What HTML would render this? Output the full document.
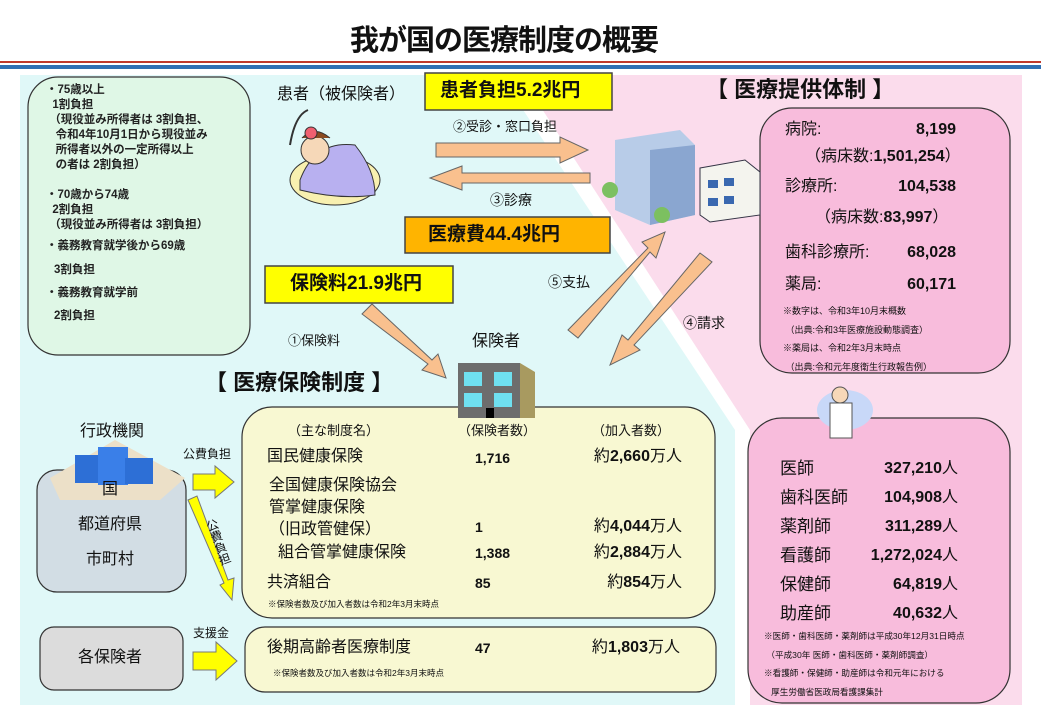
<!DOCTYPE html>
<html><head><meta charset="utf-8"><style>
body{margin:0;width:1041px;height:718px;position:relative;background:#fff;overflow:hidden;font-family:"Liberation Sans","Noto Sans CJK JP",sans-serif;color:#111}
.t{position:absolute;white-space:nowrap;line-height:1}
.b{font-weight:bold}
.r{text-align:right}
</style></head><body>
<svg width="1041" height="718" style="position:absolute;left:0;top:0">
<defs><marker id="m" markerWidth="1" markerHeight="1"/></defs>
<rect x="0" y="61" width="1041" height="2" fill="#c0392b"/>
<rect x="0" y="65" width="1041" height="4" fill="#2f6fb3"/>
<!-- backgrounds -->
<polygon points="20,75 500,75 735,430 735,705 20,705" fill="#e0f8f8"/>
<polygon points="520,75 1022,75 1022,705 750,705 750,430" fill="#fbdcec"/>
<!-- left green box -->
<rect x="28" y="77" width="222" height="278" rx="30" fill="#dff7e6" stroke="#333" stroke-width="1.2"/>
<!-- pink boxes -->
<rect x="760" y="108" width="250" height="265" rx="32" fill="#f8bcdc" stroke="#333" stroke-width="1.2"/>
<rect x="748" y="418" width="262" height="285" rx="34" fill="#f8bcdc" stroke="#333" stroke-width="1.2"/>
<!-- yellow boxes -->
<rect x="242" y="407" width="473" height="211" rx="30" fill="#f8f8d2" stroke="#333" stroke-width="1.2"/>
<rect x="245" y="627" width="471" height="65" rx="20" fill="#f8f8d2" stroke="#333" stroke-width="1.2"/>
<!-- gov box -->
<rect x="37" y="470" width="149" height="122" rx="20" fill="#d2dde4" stroke="#333" stroke-width="1.2"/>
<rect x="40" y="627" width="143" height="63" rx="14" fill="#dcdcdc" stroke="#333" stroke-width="1.2"/>
<!-- gov building icon -->
<polygon points="50,478 115,440 185,478 160,500 60,500" fill="#ece0c8"/>
<rect x="75" y="455" width="25" height="28" fill="#2d6fd6"/><rect x="98" y="447" width="30" height="38" fill="#3a7fe8"/><rect x="125" y="458" width="28" height="26" fill="#2d6fd6"/>
<!-- top value boxes -->
<rect x="425" y="73" width="187" height="37" fill="#ffff00" stroke="#444" stroke-width="1.5"/>
<rect x="405" y="217" width="205" height="36" fill="#ffb400" stroke="#444" stroke-width="1.5"/>
<rect x="265" y="266" width="188" height="37" fill="#ffff00" stroke="#444" stroke-width="1.5"/>
<!-- orange arrows -->
<g fill="#f9c08e" stroke="#666" stroke-width="1">
<polygon points="436,143 560,143 560,137 588,150 560,163 560,157 436,157"/>
<polygon points="590,173 462,173 462,166 430,178 462,190 462,183 590,183"/>
<polygon points="362,314 372,304 432,360 438,354 446,378 422,370 428,364"/>
<polygon points="568,330 578,338 650,252 656,258 665,232 642,242 648,248"/>
<polygon points="700,253 712,262 634,345 640,350 610,365 622,335 628,340"/>
</g>
<!-- yellow arrows -->
<g fill="#ffff00" stroke="#777" stroke-width="1">
<polygon points="193,474 215,474 215,466 234,482 215,498 215,490 193,490"/>
<polygon points="193,652 216,652 216,642 237,661 216,680 216,670 193,670"/>
<polygon points="188,500 197,496 228,580 234,578 232,600 220,585 224,583"/>
</g>
<!-- insurer building -->
<rect x="458" y="363" width="62" height="55" fill="#6d6d6d"/><polygon points="520,363 535,372 535,418 520,418" fill="#a89a60"/>
<g fill="#6fe0f0"><rect x="464" y="372" width="18" height="14"/><rect x="494" y="372" width="18" height="14"/><rect x="464" y="393" width="18" height="14"/><rect x="494" y="393" width="18" height="14"/></g>
<rect x="486" y="408" width="8" height="10" fill="#000"/>
<!-- hospital -->
<polygon points="615,140 680,130 695,145 695,215 650,225 615,210" fill="#b8cce8"/>
<polygon points="650,150 695,145 695,215 650,225" fill="#8aa6d0"/>
<circle cx="610" cy="190" r="8" fill="#7cc060"/><circle cx="662" cy="215" r="8" fill="#7cc060"/>
<polygon points="700,168 745,160 760,172 760,215 710,222 700,215" fill="#f4f4ee" stroke="#334" stroke-width="1"/>
<g fill="#3a68b0"><rect x="708" y="180" width="10" height="8"/><rect x="724" y="178" width="10" height="8"/><rect x="708" y="198" width="10" height="8"/><rect x="724" y="196" width="10" height="8"/></g>
<!-- patient -->
<ellipse cx="335" cy="180" rx="45" ry="25" fill="#f8f0b0" stroke="#333"/>
<path d="M300,180 Q315,140 355,145 Q375,170 375,195 Q340,200 300,190Z" fill="#b8b0f0" stroke="#333"/>
<circle cx="315" cy="150" r="14" fill="#f6d8b8" stroke="#333"/>
<path d="M302,138 Q315,125 330,138" fill="#8a4a20" stroke="#333"/>
<circle cx="311" cy="133" r="6" fill="#f06070" stroke="#333"/>
<path d="M290,145 Q295,115 308,110" fill="none" stroke="#333" stroke-width="2"/>
<!-- doctor -->
<ellipse cx="845" cy="410" rx="28" ry="20" fill="#c8d8f8"/>
<circle cx="840" cy="395" r="8" fill="#f6d8b8" stroke="#555"/>
<rect x="830" y="403" width="22" height="35" fill="#fff" stroke="#555"/>
</svg>

<div class="t b" style="left:350px;top:27px;font-size:29px;letter-spacing:-1px">我が国の医療制度の概要</div>

<div class="t" style="left:46px;top:83px;font-size:11.5px;line-height:15px;font-weight:bold;color:#222">・75歳以上<br>&nbsp;&nbsp;1割負担<br>&nbsp;（現役並み所得者は 3割負担、<br>&nbsp;&nbsp;&nbsp;令和4年10月1日から現役並み<br>&nbsp;&nbsp;&nbsp;所得者以外の一定所得以上<br>&nbsp;&nbsp;&nbsp;の者は 2割負担）</div>
<div class="t" style="left:46px;top:188px;font-size:11.5px;line-height:15px;font-weight:bold;color:#222">・70歳から74歳<br>&nbsp;&nbsp;2割負担<br>&nbsp;（現役並み所得者は 3割負担）</div>
<div class="t b" style="left:46px;top:241px;font-size:11.5px;color:#222">・義務教育就学後から69歳</div>
<div class="t b" style="left:54px;top:265px;font-size:11.5px;color:#222">3割負担</div>
<div class="t b" style="left:46px;top:288px;font-size:11.5px;color:#222">・義務教育就学前</div>
<div class="t b" style="left:54px;top:311px;font-size:11.5px;color:#222">2割負担</div>

<div class="t" style="left:277px;top:87px;font-size:16px">患者（被保険者）</div>
<div class="t b" style="left:440px;top:81px;font-size:19px">患者負担5.2兆円</div>
<div class="t" style="left:453px;top:120px;font-size:13px">②受診・窓口負担</div>
<div class="t" style="left:490px;top:193px;font-size:14px">③診療</div>
<div class="t b" style="left:428px;top:225px;font-size:19px">医療費44.4兆円</div>
<div class="t b" style="left:290px;top:274px;font-size:19px">保険料21.9兆円</div>
<div class="t" style="left:288px;top:334px;font-size:13px">①保険料</div>
<div class="t" style="left:472px;top:334px;font-size:16px">保険者</div>
<div class="t" style="left:548px;top:275px;font-size:14px">⑤支払</div>
<div class="t" style="left:683px;top:316px;font-size:14px">④請求</div>

<div class="t b" style="left:706px;top:79px;font-size:22px">【 医療提供体制 】</div>
<div class="t" style="left:785px;top:122px;font-size:16px">病院:</div><div class="t b r" style="left:870px;width:86px;top:122px;font-size:16px">8,199</div>
<div class="t" style="left:805px;top:149px;font-size:16px">（病床数:<b>1,501,254</b>）</div>
<div class="t" style="left:785px;top:179px;font-size:16px">診療所:</div><div class="t b r" style="left:870px;width:86px;top:179px;font-size:16px">104,538</div>
<div class="t" style="left:815px;top:210px;font-size:16px">（病床数:<b>83,997</b>）</div>
<div class="t" style="left:785px;top:245px;font-size:16px">歯科診療所:</div><div class="t b r" style="left:870px;width:86px;top:245px;font-size:16px">68,028</div>
<div class="t" style="left:785px;top:277px;font-size:16px">薬局:</div><div class="t b r" style="left:870px;width:86px;top:277px;font-size:16px">60,171</div>
<div class="t" style="left:783px;top:302px;font-size:9px;line-height:18.5px">※数字は、令和3年10月末概数<br>&nbsp;（出典:令和3年医療施設動態調査）<br>※薬局は、令和2年3月末時点<br>&nbsp;（出典:令和元年度衛生行政報告例）</div>

<div class="t" style="left:780px;top:454px;font-size:17px;line-height:29px">医師<br>歯科医師<br>薬剤師<br>看護師<br>保健師<br>助産師</div>
<div class="t b r" style="left:850px;width:108px;top:454px;font-size:16px;line-height:29px">327,210<span style="font-weight:normal">人</span><br>104,908<span style="font-weight:normal">人</span><br>311,289<span style="font-weight:normal">人</span><br>1,272,024<span style="font-weight:normal">人</span><br>64,819<span style="font-weight:normal">人</span><br>40,632<span style="font-weight:normal">人</span></div>
<div class="t" style="left:764px;top:627px;font-size:8.6px;line-height:18.5px">※医師・歯科医師・薬剤師は平成30年12月31日時点<br>&nbsp;（平成30年 医師・歯科医師・薬剤師調査）<br>※看護師・保健師・助産師は令和元年における<br>&nbsp;&nbsp;&nbsp;厚生労働省医政局看護課集計</div>

<div class="t b" style="left:205px;top:372px;font-size:22px">【 医療保険制度 】</div>
<div class="t" style="left:80px;top:424px;font-size:16px">行政機関</div>
<div class="t" style="left:102px;top:482px;font-size:16px">国</div>
<div class="t" style="left:78px;top:517px;font-size:16px">都道府県</div>
<div class="t" style="left:86px;top:552px;font-size:16px">市町村</div>
<div class="t" style="left:78px;top:650px;font-size:16px">各保険者</div>
<div class="t" style="left:183px;top:448px;font-size:12px">公費負担</div>
<div class="t" style="left:212px;top:518px;font-size:12px;writing-mode:vertical-rl;transform:rotate(-20deg)">公費負担</div>
<div class="t" style="left:193px;top:627px;font-size:12px">支援金</div>

<div class="t" style="left:288px;top:424px;font-size:13px">（主な制度名）</div>
<div class="t" style="left:458px;top:424px;font-size:13px">（保険者数）</div>
<div class="t" style="left:592px;top:424px;font-size:13px">（加入者数）</div>
<div class="t" style="left:267px;top:449px;font-size:16px">国民健康保険</div>
<div class="t" style="left:269px;top:475px;font-size:16px;line-height:22px">全国健康保険協会<br>管掌健康保険<br>（旧政管健保）</div>
<div class="t" style="left:278px;top:545px;font-size:16px">組合管掌健康保険</div>
<div class="t" style="left:267px;top:575px;font-size:16px">共済組合</div>
<div class="t b" style="left:475px;top:450px;font-size:14px;line-height:16px">1,716</div>
<div class="t b" style="left:475px;top:520px;font-size:14px">1</div>
<div class="t b" style="left:475px;top:546px;font-size:14px">1,388</div>
<div class="t b" style="left:475px;top:576px;font-size:14px">85</div>
<div class="t r" style="left:560px;width:122px;top:449px;font-size:16px">約<b>2,660</b>万人</div>
<div class="t r" style="left:560px;width:122px;top:519px;font-size:16px">約<b>4,044</b>万人</div>
<div class="t r" style="left:560px;width:122px;top:545px;font-size:16px">約<b>2,884</b>万人</div>
<div class="t r" style="left:560px;width:122px;top:575px;font-size:16px">約<b>854</b>万人</div>
<div class="t" style="left:268px;top:600px;font-size:8.5px">※保険者数及び加入者数は令和2年3月末時点</div>
<div class="t" style="left:267px;top:640px;font-size:16px">後期高齢者医療制度</div>
<div class="t b" style="left:475px;top:641px;font-size:14px">47</div>
<div class="t r" style="left:558px;width:122px;top:640px;font-size:16px">約<b>1,803</b>万人</div>
<div class="t" style="left:273px;top:669px;font-size:8.5px">※保険者数及び加入者数は令和2年3月末時点</div>
</body></html>
